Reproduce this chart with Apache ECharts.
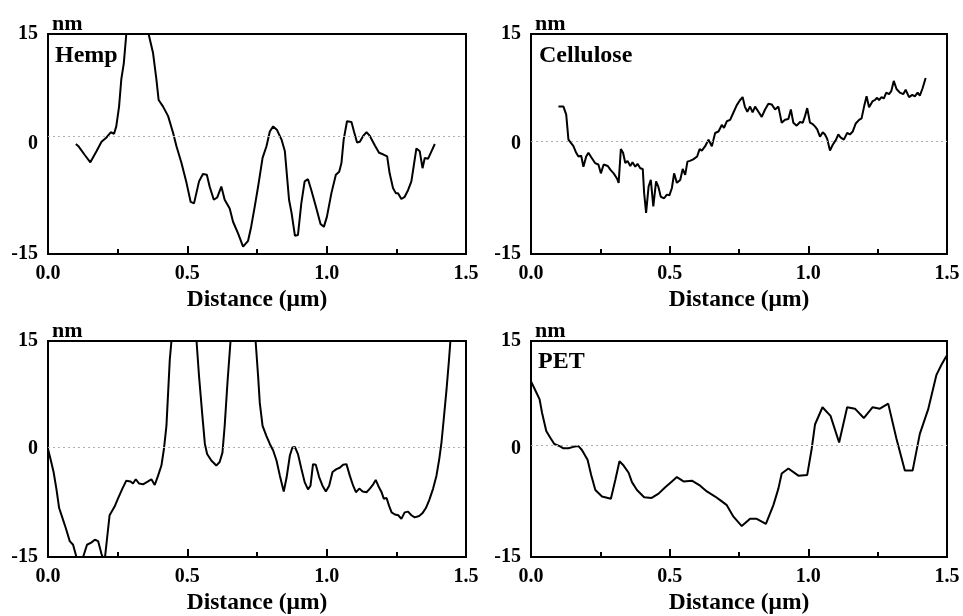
<!DOCTYPE html>
<html><head><meta charset="utf-8">
<script src="https://cdn.jsdelivr.net/npm/echarts@6/dist/echarts.min.js"></script>
<style>html,body{margin:0;padding:0;background:#fff}#c{width:963px;height:616px}</style>
</head><body><div id="c"></div>
<script>
// ---- data ----
const panelNames = ['Hemp', 'Cellulose', '', 'PET'];
const xTicks = [0, 0.5, 1.0, 1.5];
const yTicks = [-15, 0, 15];
const refLevels = [1.0, 0.4, 0.3, 0.55];

const hempX = [0.10,0.109,0.132,0.152,0.174,0.192,0.210,0.225,0.237,0.245,0.255,0.263,0.272,0.281,0.30,0.32,0.34,0.361,0.377,0.389,0.397,0.413,0.431,0.449,0.461,0.479,0.497,0.512,0.524,0.542,0.556,0.570,0.580,0.595,0.607,0.622,0.634,0.652,0.664,0.682,0.700,0.718,0.728,0.742,0.754,0.770,0.784,0.796,0.808,0.822,0.838,0.850,0.865,0.874,0.886,0.897,0.909,0.921,0.933,0.945,0.961,0.978,0.990,1.001,1.017,1.033,1.045,1.053,1.061,1.073,1.089,1.098,1.109,1.119,1.131,1.143,1.155,1.173,1.188,1.202,1.217,1.226,1.238,1.248,1.256,1.268,1.280,1.292,1.304,1.312,1.322,1.334,1.344,1.352,1.364,1.376,1.388];
const hempY = [0,-0.3,-1.5,-2.5,-1.0,0.3,0.9,1.6,1.4,2.4,5.1,8.8,11,15,19,21,19,15,12.4,8.8,6.0,5.1,3.8,1.5,-0.3,-2.6,-5.3,-7.9,-8.1,-5.1,-4.1,-4.2,-5.8,-7.6,-7.3,-5.8,-7.6,-8.8,-10.6,-12.2,-14.0,-13.2,-11.5,-8.5,-5.8,-1.9,-0.3,1.7,2.4,1.9,0.6,-1.0,-7.6,-9.4,-12.5,-12.4,-8.1,-5.1,-4.8,-6.3,-8.5,-10.9,-11.3,-9.9,-6.7,-4.2,-3.8,-2.6,0.6,3.1,3.0,1.7,0.2,0.3,1.1,1.6,1.1,-0.2,-1.2,-1.4,-1.7,-4.0,-6.0,-6.7,-6.7,-7.5,-7.2,-6.3,-5.1,-3.1,-0.6,-1.0,-3.3,-1.9,-2.0,-1.0,0];

const celluloseX = [0.099,0.117,0.127,0.135,0.140,0.153,0.163,0.171,0.181,0.189,0.199,0.207,0.219,0.231,0.243,0.252,0.262,0.277,0.286,0.298,0.310,0.316,0.324,0.332,0.340,0.348,0.358,0.366,0.376,0.384,0.394,0.403,0.408,0.415,0.424,0.432,0.441,0.451,0.459,0.468,0.480,0.490,0.499,0.508,0.516,0.526,0.538,0.547,0.556,0.564,0.573,0.585,0.599,0.608,0.616,0.628,0.640,0.652,0.664,0.676,0.688,0.696,0.706,0.718,0.730,0.742,0.754,0.763,0.771,0.780,0.790,0.799,0.808,0.820,0.832,0.844,0.856,0.868,0.880,0.892,0.898,0.904,0.916,0.928,0.937,0.946,0.958,0.970,0.980,0.988,0.996,1.006,1.016,1.024,1.032,1.042,1.052,1.060,1.068,1.078,1.088,1.100,1.108,1.116,1.128,1.140,1.150,1.160,1.171,1.183,1.192,1.201,1.210,1.219,1.231,1.240,1.248,1.255,1.264,1.272,1.281,1.291,1.299,1.308,1.318,1.330,1.342,1.351,1.363,1.375,1.384,1.394,1.402,1.412,1.423];
const celluloseY = [5.1,5.1,4.0,0.6,0.6,-0.3,-1.2,-1.7,-1.6,-3.1,-1.7,-1.2,-1.9,-2.6,-2.8,-4.0,-2.8,-3.0,-3.5,-4.0,-4.7,-5.3,-0.7,-1.2,-2.6,-2.3,-3.0,-2.5,-3.1,-2.7,-3.3,-3.4,-6.7,-9.4,-5.8,-4.9,-8.5,-5.1,-5.8,-7.2,-7.4,-6.9,-7.0,-6.0,-4.0,-5.3,-4.9,-3.4,-4.2,-2.4,-2.3,-2.1,-1.7,-0.7,-0.9,-0.3,0.6,-0.3,1.5,1.7,2.6,2.2,3.1,3.3,4.3,5.3,6.0,6.4,5.1,4.4,5.1,4.3,5.1,4.4,3.7,4.7,5.5,5.4,4.7,5.1,4.0,2.9,3.3,3.4,4.7,2.9,2.5,3.0,2.9,3.8,4.9,2.9,2.7,2.4,2.0,1.0,1.6,1.3,0.7,-0.9,-0.1,0.6,1.3,0.9,0.6,1.5,1.3,1.7,2.8,3.3,3.5,5.1,6.5,5.0,5.8,6.0,6.3,6.0,6.4,6.2,7.0,6.8,7.2,8.6,7.5,7.0,6.8,7.4,6.4,6.7,6.5,7.0,6.6,7.6,9.0];

const sample3X = [0,0.009,0.020,0.030,0.040,0.052,0.064,0.078,0.090,0.102,0.114,0.126,0.140,0.155,0.168,0.180,0.192,0.203,0.221,0.239,0.251,0.267,0.281,0.296,0.305,0.315,0.327,0.341,0.359,0.371,0.383,0.395,0.407,0.416,0.425,0.431,0.437,0.443,0.46,0.49,0.52,0.533,0.542,0.554,0.563,0.571,0.586,0.604,0.616,0.626,0.634,0.644,0.655,0.67,0.70,0.73,0.745,0.754,0.760,0.770,0.784,0.796,0.808,0.820,0.832,0.846,0.856,0.868,0.877,0.886,0.897,0.909,0.921,0.933,0.942,0.951,0.961,0.973,0.985,0.997,1.009,1.021,1.035,1.047,1.059,1.071,1.083,1.095,1.105,1.117,1.129,1.143,1.155,1.167,1.176,1.185,1.197,1.205,1.215,1.224,1.233,1.245,1.257,1.268,1.280,1.292,1.304,1.316,1.332,1.344,1.356,1.368,1.382,1.394,1.404,1.412,1.420,1.430,1.439,1.444,1.46];
const sample3Y = [0,-1.4,-3.2,-5.5,-8.2,-9.6,-11.0,-12.8,-13.3,-15,-16.5,-15,-13.3,-13.0,-12.6,-12.8,-14.6,-15.6,-9.2,-8.0,-6.9,-5.5,-4.4,-4.5,-4.8,-4.2,-4.8,-4.9,-4.5,-4.2,-5.0,-3.7,-2.3,0,3.2,7.8,12.4,15,22,25,22,15,10.1,4.6,0.7,-0.7,-1.6,-2.3,-1.8,-0.5,3.2,9.2,15,22,26,22,15,10.1,6.4,3.2,1.8,0.7,-0.2,-1.6,-3.7,-5.9,-4.0,-0.9,0.2,0.3,-0.7,-2.7,-4.6,-5.6,-5.1,-2.1,-2.2,-3.9,-5.1,-5.9,-5.1,-3.2,-2.8,-2.6,-2.2,-2.1,-3.7,-5.1,-6.0,-5.5,-5.9,-6.0,-5.5,-4.9,-4.3,-5.1,-6.0,-6.9,-6.8,-7.9,-8.8,-9.1,-9.2,-9.7,-8.8,-8.7,-9.2,-9.5,-9.3,-8.9,-8.2,-7.1,-5.5,-3.7,-1.4,0.9,4.1,8.2,12.4,15,20];

const petX = [0,0.015,0.031,0.040,0.055,0.069,0.084,0.103,0.117,0.135,0.153,0.171,0.183,0.204,0.217,0.232,0.256,0.288,0.304,0.319,0.334,0.352,0.364,0.382,0.408,0.435,0.460,0.484,0.508,0.526,0.550,0.580,0.610,0.634,0.664,0.682,0.706,0.730,0.760,0.790,0.814,0.847,0.874,0.892,0.904,0.928,0.964,0.996,1.012,1.024,1.051,1.080,1.111,1.140,1.168,1.200,1.232,1.258,1.288,1.318,1.348,1.376,1.402,1.432,1.462,1.480,1.498];
const petY = [9.4,8.2,6.9,5.0,2.5,1.6,0.7,0.4,0.1,0.1,0.3,0.4,-0.1,-1.5,-3.6,-5.7,-6.6,-6.9,-4.3,-1.7,-2.3,-3.3,-4.6,-5.7,-6.7,-6.8,-6.2,-5.3,-4.5,-3.9,-4.5,-4.4,-5.1,-5.9,-6.6,-7.1,-7.8,-9.4,-10.7,-9.7,-9.7,-10.4,-7.8,-5.5,-3.4,-2.7,-3.7,-3.6,0,3.4,5.8,4.6,0.9,5.8,5.6,4.3,5.8,5.6,6.3,1.4,-3.0,-3.0,2.1,5.5,10.3,11.7,12.9];

const seriesX = [hempX, celluloseX, sample3X, petX];
const seriesY = [hempY, celluloseY, sample3Y, petY];

// ---- layout ----
const grids = [
  {left: 48, top: 34, width: 418, height: 220},
  {left: 531, top: 34, width: 416, height: 220},
  {left: 48, top: 341, width: 418, height: 218},
  {left: 531, top: 341, width: 416, height: 218}
];
const labelPos = [[55, 44], [539, 44], [0, 0], [538, 350]];
const FONT = 'Liberation Serif';

const option = {
  animation: false,
  backgroundColor: '#fff',
  title: panelNames.map((n, i) => ({
    text: n, left: labelPos[i][0], top: labelPos[i][1], padding: 0,
    textStyle: {fontFamily: FONT, fontWeight: 'bold', fontSize: 24, color: '#000'}
  })),
  grid: grids.map(g => Object.assign({show: true, borderColor: '#000', borderWidth: 2, backgroundColor: 'transparent'}, g)),
  xAxis: grids.map((g, i) => ({
    type: 'value', gridIndex: i, min: xTicks[0], max: xTicks[xTicks.length - 1], interval: 0.5,
    name: 'Distance (μm)', nameLocation: 'middle', nameGap: 34,
    nameTextStyle: {fontFamily: FONT, fontWeight: 'bold', fontSize: 23.5, color: '#000'},
    axisLine: {show: true, onZero: false, lineStyle: {color: '#000', width: 2}},
    axisTick: {show: true, inside: true, length: 8, lineStyle: {color: '#000', width: 2}},
    minorTick: {show: true, splitNumber: 2, length: 5, lineStyle: {color: '#000', width: 2}},
    splitLine: {show: false},
    axisLabel: {margin: 10, fontFamily: FONT, fontWeight: 'bold', fontSize: 20, color: '#000',
      formatter: v => v.toFixed(1)}
  })),
  yAxis: grids.map((g, i) => ({
    type: 'value', gridIndex: i, min: yTicks[0], max: yTicks[yTicks.length - 1], interval: 15,
    name: 'nm', nameLocation: 'end', nameGap: -1,
    nameTextStyle: {fontFamily: FONT, fontWeight: 'bold', fontSize: 22, color: '#000', align: 'left', padding: [0, 0, 0, 4]},
    axisLine: {show: true, onZero: false, lineStyle: {color: '#000', width: 2}},
    axisTick: {show: false},
    splitLine: {show: false},
    axisLabel: {margin: 10, fontFamily: FONT, fontWeight: 'bold', fontSize: 20, color: '#000'}
  })),
  series: seriesX.map((xs, i) => ({
    type: 'line', xAxisIndex: i, yAxisIndex: i, showSymbol: false, clip: true,
    lineStyle: {color: '#000', width: 2}, itemStyle: {color: '#000'},
    data: xs.map((x, k) => [x, seriesY[i][k]]),
    markLine: {
      silent: true, symbol: 'none', label: {show: false},
      lineStyle: {type: [2, 3], color: '#b0b0b0', width: 1},
      data: [{yAxis: refLevels[i]}]
    }
  }))
};
echarts.init(document.getElementById('c')).setOption(option);
</script></body></html>
